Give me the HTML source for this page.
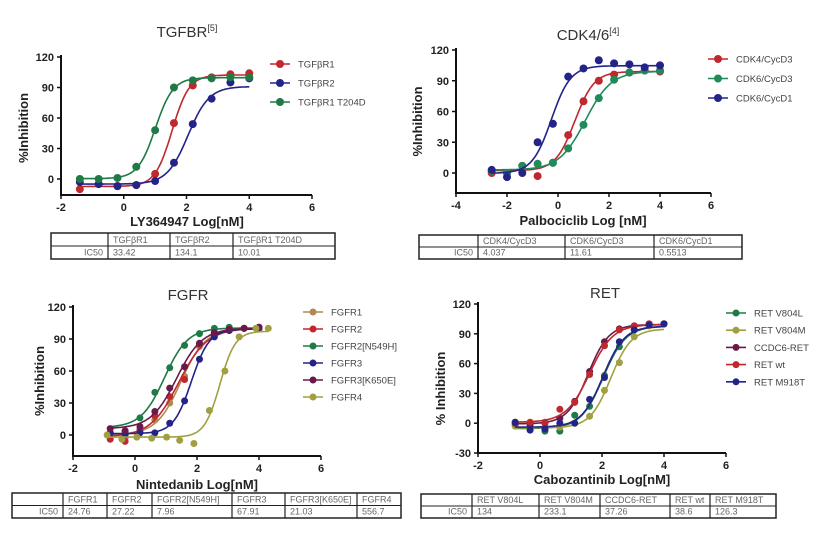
<!DOCTYPE html>
<html><head><meta charset="utf-8">
<style>
html,body{margin:0;padding:0;background:#fff;}
svg{display:block;font-family:"Liberation Sans",Arial,sans-serif;}
.tk{font-size:11px;font-weight:bold;fill:#222;}
.tt{font-size:15px;fill:#333;}
.xt{font-size:13px;font-weight:bold;fill:#222;}
.lg{font-size:9.5px;fill:#444;}
.tb{font-size:9px;fill:#666;}
</style></head><body>
<svg id="root" width="826" height="538" viewBox="0 0 826 538" xmlns="http://www.w3.org/2000/svg"></svg>
<script>
// ===== TGFBR data =====
const tgfX = [-1.4,-0.8,-0.2,0.4,1.0,1.6,2.2,2.8,3.4,4.0];
const tgfR1 = [-10,-5,-7,-6,5,55,92,100,103,104];
const tgfR2 = [-3,-5,-7,-6,-2,16,54,79,95,99];
const tgfT204D = [0,0,1,12,48,90,97,99,100,100];
const tgfLabels = ["TGF\u03b2R1","TGF\u03b2R2","TGF\u03b2R1 T204D"];
const tgfIC50 = ["33.42","134.1","10.01"];
// ===== CDK4/6 data =====
const cdkX = [-2.6,-2.0,-1.4,-0.8,-0.2,0.4,1.0,1.6,2.2,2.8,3.4,4.0];
const cdk4D3 = [0,0,7,-3,10,37,70,90,96,98,100,99];
const cdk6D3 = [2,0,7,9,10,24,47,73,91,98,100,100];
const cdk6D1 = [3,-4,0,30,48,94,102,110,107,106,103,105];
const cdkLabels = ["CDK4/CycD3","CDK6/CycD3","CDK6/CycD1"];
const cdkIC50 = ["4.037","11.61","0.5513"];
// ===== FGFR data =====
const fgfX = [-0.8,-0.32,0.16,0.64,1.12,1.6,2.08,2.56,3.04,3.52,4.0];
const fgfX4 = [-0.9,-0.42,0.06,0.54,1.02,1.44,1.9,2.4,2.9,3.36,3.9,4.3];
const fgfr1 = [1,-3,3,14,30,55,83,95,99,100,100];
const fgfr2 = [-4,-6,5,18,36,52,85,96,99,100,101];
const fgfrN549H = [2,3,16,40,63,84,95,100,101,100,100];
const fgfr3 = [2,0,2,2,11,32,71,92,98,100,100];
const fgfrK650E = [6,4,8,22,44,64,86,96,99,100,101];
const fgfr4 = [0,-4,-2,-3,-2,-5,-8,23,60,92,100,100];
const fgfLabels = ["FGFR1","FGFR2","FGFR2[N549H]","FGFR3","FGFR3[K650E]","FGFR4"];
const fgfIC50 = ["24.76","27.22","7.96","67.91","21.03","556.7"];
// ===== RET data =====
const retX = [-0.8,-0.32,0.16,0.64,1.12,1.6,2.08,2.56,3.04,3.52,4.0];
const retV804L = [-2,-6,-8,-8,8,17,48,77,94,99,100];
const retV804M = [-3,-5,-6,-4,0,7,33,61,87,98,100];
const retCCDC6 = [0,-2,0,5,22,52,82,95,98,100,100];
const retWt = [1,1,1,14,21,49,78,94,98,100,100];
const retM918T = [1,-7,-6,0,0,24,46,82,94,99,100];
const retLabels = ["RET V804L","RET V804M","CCDC6-RET","RET wt","RET M918T"];
const retIC50 = ["134","233.1","37.26","38.6","126.3"];

const NS="http://www.w3.org/2000/svg";
const root=document.getElementById('root');
function mk(tag,attrs,parent){const e=document.createElementNS(NS,tag);for(const k in attrs)e.setAttribute(k,attrs[k]);(parent||root).appendChild(e);return e;}

function hillFit(xs,ys){
  // simple 4PL fit by grid search
  const n=ys.length;
  let lo=Math.min(...ys.slice(0,3)), hi=Math.max(...ys.slice(n-3));
  lo=ys.slice(0,3).reduce((a,b)=>a+b,0)/3; hi=ys.slice(n-3).reduce((a,b)=>a+b,0)/3;
  let best=null;
  for(let c=-2;c<=4;c+=0.01){for(let h=0.6;h<=3;h+=0.05){
    let s=0;for(let i=0;i<n;i++){const p=lo+(hi-lo)/(1+Math.pow(10,(c-xs[i])*h));s+=(p-ys[i])*(p-ys[i]);}
    if(!best||s<best.s)best={s,c,h};}}
  return {lo,hi,c:best.c,h:best.h};
}

function chart(cfg){
  const g=mk('g',{});
  
  
  const X=v=>cfg.x0+(v-cfg.xmin)/(cfg.xmax-cfg.xmin)*(cfg.x1-cfg.x0);
  const Y=v=>cfg.y0-(v-cfg.ymin)/(cfg.ymax-cfg.ymin)*(cfg.y0-cfg.y1);
  const t=mk('text',{x:cfg.tx,y:cfg.ty,'text-anchor':'middle',class:'tt'},g);
  
  
  t.textContent=cfg.title;
  if(cfg.sup){const s=mk('tspan',{'font-size':'9','dy':'-6'},t);s.textContent=cfg.sup;}
  const ax=mk('path',{d:`M${cfg.x0},${cfg.y1-2}V${cfg.yb}H${cfg.x1}`,stroke:'#111','stroke-width':2,fill:'none'},g);
  
  
  cfg.yticks.forEach(v=>{
    mk('line',{x1:cfg.x0-4,x2:cfg.x0,y1:Y(v),y2:Y(v),stroke:'#111','stroke-width':1.5},g);
    const l=mk('text',{x:cfg.x0-7,y:Y(v)+4,'text-anchor':'end',class:'tk'},g);
    
    
    l.textContent=v;
  });
  cfg.xticks.forEach(v=>{
    mk('line',{x1:X(v),x2:X(v),y1:cfg.yb,y2:cfg.yb+4,stroke:'#111','stroke-width':1.5},g);
    const l=mk('text',{x:X(v),y:cfg.yb+16,'text-anchor':'middle',class:'tk'},g);
    
    
    l.textContent=v;
  });
  const xt=mk('text',{x:cfg.xtx,y:cfg.xty,'text-anchor':'middle',class:'xt'},g);
  
  
  xt.textContent=cfg.xtitle;
  const yt=mk('text',{x:0,y:0,transform:`translate(${cfg.ytx},${(cfg.y1+cfg.y0)/2+10}) rotate(-90)`,'text-anchor':'middle',class:'xt','font-size':'12'},g);
  
  
  yt.textContent=cfg.ytitle;
  cfg.series.forEach((s,i)=>{
    const f=hillFit(s.x,s.y);
    let d='';
    for(let k=0;k<=120;k++){const xv=s.x[0]+(s.x[s.x.length-1]-s.x[0])*k/120;const yv=f.lo+(f.hi-f.lo)/(1+Math.pow(10,(f.c-xv)*f.h));d+=(k?'L':'M')+X(xv).toFixed(1)+','+Y(yv).toFixed(1);}
    const c=mk('path',{d,stroke:s.color,'stroke-width':1.6,fill:'none'},g);
    
    
    s.y.forEach((v,j)=>{
      const p=mk('circle',{cx:X(s.x[j]),cy:Y(v),r:cfg.r,fill:s.color},g);
      
      
    });
    const ly=cfg.ly0+i*cfg.ldy;
    mk('line',{x1:cfg.lx-10,x2:cfg.lx+10,y1:ly,y2:ly,stroke:s.color,'stroke-width':1.6},g);
    mk('circle',{cx:cfg.lx,cy:ly,r:cfg.r,fill:s.color},g);
    const lt=mk('text',{x:cfg.lx+18,y:ly+3.5,class:'lg'},g);
    
    
    lt.textContent=s.label;
  });
  // table
  const tb=mk('g',{},g);
  
  
  mk('rect',{x:cfg.tb.x0,y:cfg.tb.y0,width:cfg.tb.x1-cfg.tb.x0,height:cfg.tb.y1-cfg.tb.y0,fill:'none',stroke:'#222','stroke-width':1.5},tb);
  mk('line',{x1:cfg.tb.x0,x2:cfg.tb.x1,y1:(cfg.tb.y0+cfg.tb.y1)/2,y2:(cfg.tb.y0+cfg.tb.y1)/2,stroke:'#222','stroke-width':1},tb);
  const cols=[cfg.tb.x0].concat(cfg.tb.cols);
  cfg.tb.cols.forEach(cx=>mk('line',{x1:cx,x2:cx,y1:cfg.tb.y0,y2:cfg.tb.y1,stroke:'#222','stroke-width':1.2},tb));
  const my=(cfg.tb.y0+cfg.tb.y1)/2;
  const ic=mk('text',{x:cfg.tb.cols[0]-5,y:cfg.tb.y1-3.5,'text-anchor':'end',class:'tb'},tb);ic.textContent='IC50';
  cfg.series.forEach((s,i)=>{
    const h=mk('text',{x:cfg.tb.cols[i]+5,y:my-3,class:'tb'},tb);h.textContent=s.label;
    const v=mk('text',{x:cfg.tb.cols[i]+5,y:cfg.tb.y1-3.5,class:'tb'},tb);v.textContent=cfg.ic50[i];
  });
}

chart({name:'tgfbr-chart',title:'TGFBR',sup:'[5]',tx:187,ty:37,x0:61,x1:312,xmin:-2,xmax:6,y0:179,y1:57,ymin:0,ymax:120,yb:195,
  yticks:[0,30,60,90,120],xticks:[-2,0,2,4,6],xtitle:'LY364947 Log[nM]',xtx:187,xty:226,ytitle:'%Inhibition',ytx:28,r:4,
  lx:280,ly0:64,ldy:19,ic50:tgfIC50,
  tb:{x0:51,x1:335,y0:233,y1:259,cols:[108,170,233]},
  series:[{x:tgfX,y:tgfR1,color:'#c0282d',label:tgfLabels[0]},{x:tgfX,y:tgfR2,color:'#232388',label:tgfLabels[1]},{x:tgfX,y:tgfT204D,color:'#1f7a45',label:tgfLabels[2]}]});

chart({name:'cdk46-chart',title:'CDK4/6',sup:'[4]',tx:588,ty:40,x0:456,x1:711,xmin:-4,xmax:6,y0:173,y1:50,ymin:0,ymax:120,yb:193,
  yticks:[0,30,60,90,120],xticks:[-4,-2,0,2,4,6],xtitle:'Palbociclib Log [nM]',xtx:583,xty:225,ytitle:'%Inhibition',ytx:422,r:4,
  lx:718,ly0:59,ldy:19.5,ic50:cdkIC50,
  tb:{x0:419,x1:742,y0:235,y1:259,cols:[478,565,654]},
  series:[{x:cdkX,y:cdk4D3,color:'#c0282d',label:cdkLabels[0]},{x:cdkX,y:cdk6D3,color:'#1f8a5a',label:cdkLabels[1]},{x:cdkX,y:cdk6D1,color:'#232388',label:cdkLabels[2]}]});

chart({name:'fgfr-chart',title:'FGFR',tx:188,ty:300,x0:73,x1:321,xmin:-2,xmax:6,y0:435,y1:307,ymin:0,ymax:120,yb:456,
  yticks:[0,30,60,90,120],xticks:[-2,0,2,4,6],xtitle:'Nintedanib Log[nM]',xtx:197,xty:489,ytitle:'%Inhibition',ytx:44,r:3.5,
  lx:313,ly0:312,ldy:17,ic50:fgfIC50,
  tb:{x0:12,x1:401,y0:493,y1:518,cols:[63,107,152,232,285,357]},
  series:[{x:fgfX,y:fgfr1,color:'#b08a50',label:fgfLabels[0]},{x:fgfX,y:fgfr2,color:'#c0282d',label:fgfLabels[1]},{x:fgfX,y:fgfrN549H,color:'#1f7a45',label:fgfLabels[2]},{x:fgfX,y:fgfr3,color:'#232388',label:fgfLabels[3]},{x:fgfX,y:fgfrK650E,color:'#6a1a4a',label:fgfLabels[4]},{x:fgfX4,y:fgfr4,color:'#a0a040',label:fgfLabels[5]}]});

chart({name:'ret-chart',title:'RET',tx:605,ty:298,x0:478,x1:726,xmin:-2,xmax:6,y0:453,y1:304,ymin:-30,ymax:120,yb:453,
  yticks:[-30,0,30,60,90,120],xticks:[-2,0,2,4,6],xtitle:'Cabozantinib Log[nM]',xtx:602,xty:484,ytitle:'% Inhibition',ytx:445,r:3.5,
  lx:736,ly0:313,ldy:17.2,ic50:retIC50,
  tb:{x0:421,x1:776,y0:494,y1:518,cols:[472,539,600,670,710]},
  series:[{x:retX,y:retV804L,color:'#1f7a45',label:retLabels[0]},{x:retX,y:retV804M,color:'#a0a040',label:retLabels[1]},{x:retX,y:retCCDC6,color:'#6a1a4a',label:retLabels[2]},{x:retX,y:retWt,color:'#c0282d',label:retLabels[3]},{x:retX,y:retM918T,color:'#232388',label:retLabels[4]}]});
</script>
</body></html>
